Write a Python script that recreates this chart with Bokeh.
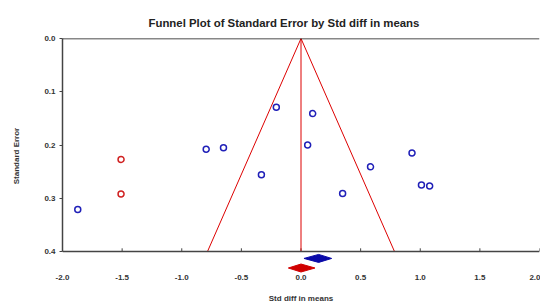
from bokeh.plotting import figure
from bokeh.models import Range1d, FixedTicker, NumeralTickFormatter, Span
from bokeh.embed import file_html
from bokeh.resources import INLINE

# ---- data ----
obs_effect = [-1.872, -0.795, -0.650, -0.207, -0.332, 0.098, 0.056, 0.349, 0.583, 0.931, 1.010, 1.079]
obs_se     = [0.321, 0.208, 0.205, 0.129, 0.256, 0.141, 0.200, 0.291, 0.241, 0.215, 0.275, 0.277]
imp_effect = [-1.509, -1.509]
imp_se     = [0.227, 0.292]
# combined estimates: (lower, point, upper)
obs_combined = [0.025, 0.148, 0.257]
imp_combined = [-0.106, 0.000, 0.117]
funnel_center = 0.0
se_max = 0.4
x_ticks = [-2.0, -1.5, -1.0, -0.5, 0.0, 0.5, 1.0, 1.5, 2.0]
y_ticks = [0.0, 0.1, 0.2, 0.3, 0.4]

X_MIN, X_MAX = -2.0, 2.0
Y_BOTTOM = 0.4413
FONT = "Liberation Sans"
BLUE = "#2020B8"
RED = "#D02020"

p = figure(width=540, height=305, output_backend="svg", toolbar_location=None,
           x_range=Range1d(X_MIN, X_MAX), y_range=Range1d(start=Y_BOTTOM, end=0),
           min_border=0, min_border_left=62, min_border_right=1, min_border_top=38, min_border_bottom=32,
           title="Funnel Plot of Standard Error by Std diff in means")
p.outline_line_color = None
p.background_fill_color = "white"
p.border_fill_color = "white"
p.grid.visible = False

p.title.text_font = FONT
p.title.text_font_size = "11.4px"
p.title.text_font_style = "bold"
p.title.text_color = "#222222"
p.title.align = "left"
p.title.offset = 86
p.title.standoff = 20

# y axis
ya = p.yaxis[0]
ya.ticker = FixedTicker(ticks=y_ticks)
ya.formatter = NumeralTickFormatter(format="0.0")
ya.bounds = (0, se_max)
ya.axis_label = "Standard Error"
ya.axis_label_text_font = FONT
ya.axis_label_text_font_size = "8px"
ya.axis_label_text_font_style = "bold"
ya.axis_label_text_color = "#333333"
ya.axis_label_standoff = 20
ya.major_label_text_font = FONT
ya.major_label_text_font_size = "8px"
ya.major_label_text_font_style = "bold"
ya.major_label_text_color = "#333333"
ya.major_label_standoff = 4
ya.major_tick_out = 3
ya.major_tick_in = 0
ya.minor_tick_out = 0
ya.minor_tick_in = 0
ya.axis_line_color = "#444444"
ya.axis_line_width = 1.5
ya.major_tick_line_color = "#444444"

# x axis (labels only; the axis line is drawn at se_max)
xa = p.xaxis[0]
xa.ticker = FixedTicker(ticks=x_ticks)
xa.formatter = NumeralTickFormatter(format="0.0")
xa.axis_label = "Std diff in means"
xa.axis_label_text_font = FONT
xa.axis_label_text_font_size = "8px"
xa.axis_label_text_font_style = "bold"
xa.axis_label_text_color = "#333333"
xa.axis_label_standoff = 11
xa.major_label_text_font = FONT
xa.major_label_text_font_size = "8px"
xa.major_label_text_font_style = "bold"
xa.major_label_text_color = "#333333"
xa.major_label_standoff = 1
xa.major_tick_out = 0
xa.major_tick_in = 0
xa.minor_tick_out = 0
xa.minor_tick_in = 0
xa.axis_line_color = None

# frame lines: top border and bottom axis line at se_max
p.add_layout(Span(location=0, dimension="width", line_color="#111111", line_width=1.5))
p.add_layout(Span(location=se_max, dimension="width", line_color="#444444", line_width=1.5))
p.segment(x0=x_ticks, x1=x_ticks, y0=[se_max] * len(x_ticks), y1=[se_max - 0.006] * len(x_ticks),
          line_color="#444444", line_width=1)

# funnel
z = 1.96
p.line([funnel_center - z * se_max, funnel_center, funnel_center + z * se_max], [se_max, 0, se_max],
       line_color="#DD0000", line_width=1)
p.line([funnel_center, funnel_center], [0, se_max], line_color="#DD0000", line_width=1)

# points
p.scatter(obs_effect, obs_se, size=6, fill_color=None, line_color=BLUE, line_width=1.5)
p.scatter(imp_effect, imp_se, size=6, fill_color=None, line_color=RED, line_width=1.5)

# diamonds
def diamond(vals, yc, h, color):
    lo, mid, hi = vals
    p.patch([lo, mid, hi, mid], [yc, yc - h, yc, yc + h], fill_color=color, line_color=color, line_width=1)

diamond(obs_combined, 0.413, 0.0075, "#0A0AA8")
diamond(imp_combined, 0.431, 0.0075, "#D00000")

open("out.html", "w").write(file_html(p, INLINE))
